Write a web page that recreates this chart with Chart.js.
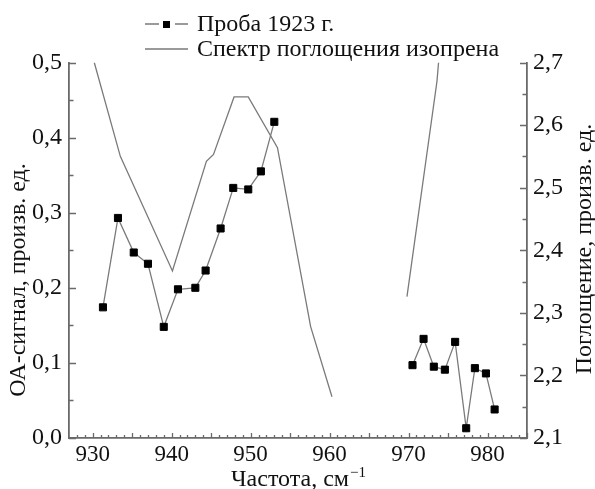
<!DOCTYPE html>
<html lang="ru">
<head>
<meta charset="UTF-8">
<title>ОА-сигнал и спектр поглощения изопрена</title>
<script src="https://cdn.jsdelivr.net/npm/chart.js"></script>
<style>
  body { margin: 0; background: #fff; }
  .chart-box { width: 595px; height: 489px; }
</style>
</head>
<body>
<div class="chart-box"><canvas id="oaChart"></canvas></div>
<script>
// Проба 1923 г. - ОА-сигнал (левая ось), null = разрыв линии
const sampleFreq = [931.3, 933.2, 935.2, 937.0, 939.0, 940.8, 943.0, 944.3, 946.2, 947.8, 949.7, 951.3, 953.0,
                    962, 970.5, 971.9, 973.2, 974.6, 975.9, 977.3, 978.4, 979.8, 980.9];
const sampleSignal = [0.174, 0.293, 0.247, 0.232, 0.148, 0.198, 0.200, 0.223, 0.279, 0.333, 0.331, 0.355, 0.421,
                      null, 0.097, 0.132, 0.095, 0.091, 0.128, 0.013, 0.093, 0.086, 0.038];

// Спектр поглощения изопрена (правая ось)
const isopreneFreq = [930.2, 933.5, 940.1, 944.4, 945.3, 947.9, 949.7, 953.4, 957.6, 960.3, 965, 969.8, 973.6, 973.8];
const isopreneAbs = [2.700, 2.550, 2.367, 2.542, 2.553, 2.645, 2.645, 2.564, 2.278, 2.166, null, 2.326, 2.670, 2.700];

const xTicks = [930, 940, 950, 960, 970, 980];
const leftTicks = [0, 0.1, 0.2, 0.3, 0.4, 0.5];
const rightTicks = [2.1, 2.2, 2.3, 2.4, 2.5, 2.6, 2.7];

const FONT = "'Times New Roman', 'Liberation Serif', serif";
const AXIS = '#6a6a6a';
const LINE = '#7a7a7a';

function zip(xs, ys) {
    return xs.map((x, i) => ({ x: x, y: ys[i] }));
}
function comma(v) {
    return v.toFixed(1).replace('.', ',');
}

// inward tick marks, legend and axis titles
const decor = {
    id: 'decor',
    afterDraw(chart) {
        const ctx = chart.ctx;
        const { x, yL, yR } = chart.scales;
        const area = chart.chartArea;
        ctx.save();
        ctx.strokeStyle = AXIS;
        ctx.lineWidth = 1.3;
        ctx.beginPath();
        for (let f = 928; f <= 985; f++) {
            const px = Math.round(x.getPixelForValue(f)) + 0.5;
            const len = f % 5 === 0 ? 5 : 3;
            ctx.moveTo(px, area.bottom);
            ctx.lineTo(px, area.bottom - len);
        }
        for (let i = 0; i <= 10; i++) {
            const py = Math.round(yL.getPixelForValue(i * 0.05)) + 0.5;
            const len = i % 2 === 0 ? 7 : 4.5;
            ctx.moveTo(area.left, py);
            ctx.lineTo(area.left + len, py);
        }
        for (let i = 0; i <= 12; i++) {
            const py = Math.round(yR.getPixelForValue(2.1 + i * 0.05)) + 0.5;
            const len = i % 2 === 0 ? 7 : 4.5;
            ctx.moveTo(area.right, py);
            ctx.lineTo(area.right - len, py);
        }
        ctx.stroke();

        // legend
        ctx.strokeStyle = LINE;
        ctx.lineWidth = 1.3;
        ctx.beginPath();
        ctx.moveTo(145, 24); ctx.lineTo(159, 24);
        ctx.moveTo(175, 24); ctx.lineTo(188, 24);
        ctx.moveTo(145, 49); ctx.lineTo(188, 49);
        ctx.stroke();
        ctx.fillStyle = '#000';
        ctx.fillRect(163, 21, 7, 7);
        ctx.fillStyle = '#111';
        ctx.font = '24px ' + FONT;
        ctx.textAlign = 'left';
        ctx.textBaseline = 'alphabetic';
        chart.data.datasets.forEach((ds, i) => {
            ctx.fillText(ds.label, 197, 31 + i * 25);
        });

        // axis titles
        ctx.textAlign = 'center';
        ctx.textBaseline = 'middle';
        ctx.save();
        ctx.translate(19, 280);
        ctx.rotate(-Math.PI / 2);
        ctx.fillText('ОА-сигнал, произв. ед.', 0, 0);
        ctx.restore();
        ctx.save();
        ctx.translate(585, 249);
        ctx.rotate(-Math.PI / 2);
        ctx.fillText('Поглощение, произв. ед.', 0, 0);
        ctx.restore();

        const main = 'Частота, см';
        const sup = '\u22121';
        ctx.textBaseline = 'alphabetic';
        ctx.textAlign = 'left';
        const w1 = ctx.measureText(main).width;
        ctx.font = '15px ' + FONT;
        const w2 = ctx.measureText(sup).width;
        const cx = (area.left + area.right) / 2;
        const x0 = cx - (w1 + w2) / 2;
        ctx.fillText(sup, x0 + w1 + 1, 477);
        ctx.font = '24px ' + FONT;
        ctx.fillText(main, x0, 486);
        ctx.restore();
    }
};

new Chart(document.getElementById('oaChart'), {
    type: 'line',
    data: {
        datasets: [
            {
                label: 'Проба 1923 г.',
                data: zip(sampleFreq, sampleSignal),
                yAxisID: 'yL',
                borderColor: LINE,
                borderWidth: 1.3,
                pointStyle: 'rect',
                pointRadius: 5,
                pointBorderWidth: 1,
                pointBackgroundColor: '#000',
                pointBorderColor: '#000',
                spanGaps: false,
                tension: 0
            },
            {
                label: 'Спектр поглощения изопрена',
                data: zip(isopreneFreq, isopreneAbs),
                yAxisID: 'yR',
                borderColor: LINE,
                borderWidth: 1.3,
                pointRadius: 0,
                spanGaps: false,
                tension: 0
            }
        ]
    },
    options: {
        responsive: true,
        maintainAspectRatio: false,
        animation: false,
        events: [],
        layout: { padding: { top: 62.5, left: 0, right: 0, bottom: 0 } },
        plugins: {
            legend: { display: false },
            tooltip: { enabled: false }
        },
        scales: {
            x: {
                type: 'linear',
                min: 927,
                max: 985,
                afterFit: s => { s.height = 51; },
                afterBuildTicks: s => { s.ticks = xTicks.map(v => ({ value: v })); },
                grid: { display: false, drawTicks: false },
                border: { display: true, color: AXIS, width: 1.8 },
                ticks: {
                    color: '#111',
                    padding: 3,
                    maxRotation: 0,
                    font: { family: FONT, size: 23 },
                    callback: v => String(v)
                }
            },
            yL: {
                type: 'linear',
                position: 'left',
                min: 0,
                max: 0.5,
                afterFit: s => { s.width = 69; },
                afterBuildTicks: s => { s.ticks = leftTicks.map(v => ({ value: v })); },
                grid: { display: false, drawTicks: false },
                border: { display: true, color: AXIS, width: 1.8 },
                ticks: {
                    color: '#111',
                    padding: 7,
                    font: { family: FONT, size: 24 },
                    callback: v => comma(v)
                }
            },
            yR: {
                type: 'linear',
                position: 'right',
                min: 2.1,
                max: 2.7,
                afterFit: s => { s.width = 68; },
                afterBuildTicks: s => { s.ticks = rightTicks.map(v => ({ value: v })); },
                grid: { display: false, drawTicks: false },
                border: { display: true, color: AXIS, width: 1.8 },
                ticks: {
                    color: '#111',
                    padding: 6,
                    font: { family: FONT, size: 24 },
                    callback: v => comma(v)
                }
            }
        }
    },
    plugins: [decor]
});
</script>
</body>
</html>
